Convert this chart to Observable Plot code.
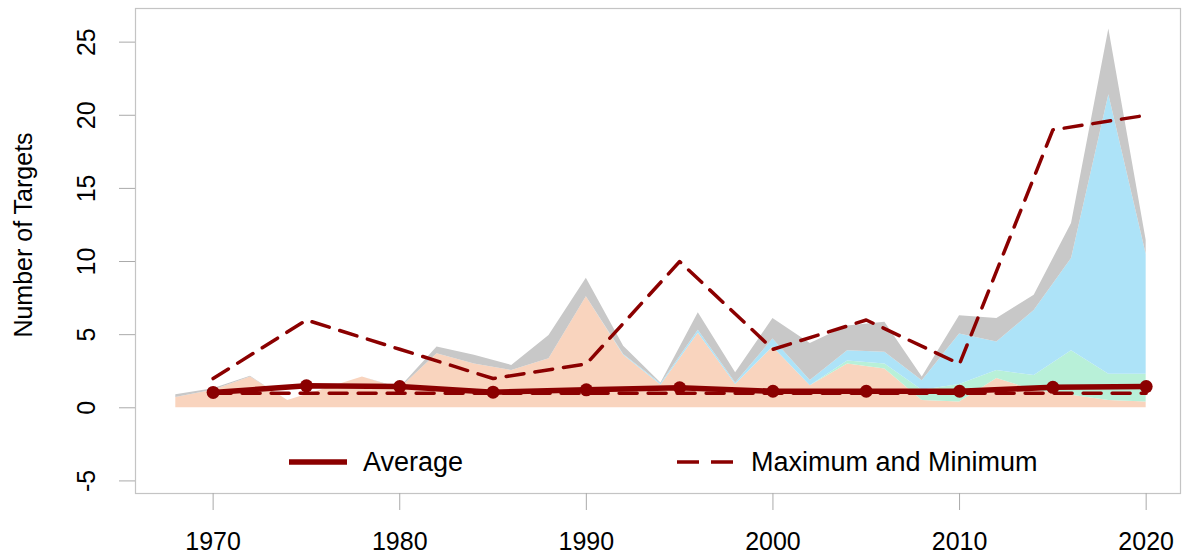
<!DOCTYPE html>
<html><head><meta charset="utf-8">
<script src="https://cdn.jsdelivr.net/npm/d3@7"></script>
<script src="https://cdn.jsdelivr.net/npm/@observablehq/plot@0.6"></script>
<style>
body{margin:0;background:#fff;font-family:"Liberation Sans",Arial,sans-serif;}
#wrap{position:relative;width:1183px;height:556px;overflow:hidden;}
#wrap svg{display:block;}
.ylab{position:absolute;left:0;top:0;font-size:25px;color:#000;white-space:nowrap;transform-origin:0 0;}
.leg{position:absolute;font-size:27px;color:#000;white-space:nowrap;display:flex;align-items:center;}
.leg svg{margin-right:16px;}
</style></head><body><div id="wrap"></div>
<script>
// Stacked area series (per two years)
const years  = [1968,1970,1972,1974,1976,1978,1980,1982,1984,1986,1988,1990,1992,1994,1996,1998,2000,2002,2004,2006,2008,2010,2012,2014,2016,2018,2020];
const orange = [0.7,1.2,2.1,0.5,1.3,2.1,1.3,3.7,3.0,2.55,3.35,7.6,3.6,1.55,5.1,1.6,4.15,1.5,3.0,2.65,0.5,0.4,2.0,1.2,0.85,0.5,0.4];
const green  = [0,0,0,0,0,0,0,0,0,0,0,0,0,0,0,0,0,0,0.2,0.35,0.7,1.2,0.55,1.0,3.05,1.8,1.9];
const blue   = [0,0,0,0,0,0,0,0,0,0,0,0,0.05,0.1,0.2,0.1,0.55,0.37,0.7,0.8,0.65,3.45,1.95,4.45,6.3,19.1,8.2];
const grey   = [0.2,0.1,0.05,0,0,0,0.05,0.45,0.6,0.35,1.6,1.25,0.55,0.05,1.2,0.7,1.4,2.53,1.7,2.05,0.25,1.25,1.6,1.05,2.4,4.5,0.95];
const layerNames  = ["Layer 1","Layer 2","Layer 3","Layer 4"];
const layerColors = ["#f9d4be","#b8f0d8","#ade3f8","#c8c8c8"];

// Five-year summary lines
const lineYears = [1970,1975,1980,1985,1990,1995,2000,2005,2010,2015,2020];
const average   = [1.05,1.5,1.45,1.07,1.23,1.37,1.13,1.13,1.13,1.4,1.45];
const maximum   = [2,6,4,2,3,10,4,6,3,19,20];
const minimum   = [1,1,1,1,1,1,1,1,1,1,1];

const xTicks = [1970,1980,1990,2000,2010,2020];
const yTicks = [-5,0,5,10,15,20,25];
const yTitle = "Number of Targets";
const legendLabels = ["Average","Maximum and Minimum"];

const seriesVals = [orange, green, blue, grey];
const areaRows = [];
layerNames.forEach((k, j) => years.forEach((yr,i) => areaRows.push({year: yr, layer: k, value: seriesVals[j][i]})));
const lineRows = lineYears.map((yr,i) => ({year: yr, avg: average[i], max: maximum[i], min: minimum[i]}));

const dark = "#8b0000";
const plot = Plot.plot({
  width: 1183, height: 556,
  marginLeft: 135, marginRight: 3, marginTop: 8, marginBottom: 63,
  style: {fontFamily: '"Liberation Sans", Arial, sans-serif', fontSize: "25px", background: "#fff", color: "#000"},
  x: {domain: [1965.84, 2021.84]},
  y: {domain: [-5.86, 27.3]},
  color: {type: "ordinal", domain: layerNames, range: layerColors},
  marks: [
    Plot.areaY(areaRows, {x: "year", y: "value", fill: "layer"}),
    Plot.lineY(lineRows, {x: "year", y: "max", stroke: dark, strokeWidth: 3.5, strokeDasharray: "18,11"}),
    Plot.lineY(lineRows, {x: "year", y: "min", stroke: dark, strokeWidth: 3.5, strokeDasharray: "18,11"}),
    Plot.lineY(lineRows, {x: "year", y: "avg", stroke: dark, strokeWidth: 5.5}),
    Plot.dot(lineRows, {x: "year", y: "avg", fill: dark, r: 6.5}),
    Plot.frame({stroke: "#c4c4c4", strokeWidth: 1.2}),
    Plot.axisX({ticks: xTicks, tickFormat: d => String(d), tickSize: 17, tickPadding: 22, stroke: "#aaa", fill: "#000", label: null}),
    Plot.axisY({ticks: yTicks, tickFormat: d => String(d), tickSize: 16, tickPadding: 25, tickRotate: -90, stroke: "#aaa", fill: "#000", label: null})
  ]
});
const wrap = document.getElementById("wrap");
wrap.appendChild(plot);

// y-axis title
const yl = document.createElement("div");
yl.className = "ylab";
yl.textContent = yTitle;
wrap.appendChild(yl);
const w = yl.getBoundingClientRect().width;
yl.style.transform = `translate(9px, ${235 + w/2}px) rotate(-90deg)`;

// legend
function legendItem(label, dashed, left) {
  const d = document.createElement("div");
  d.className = "leg";
  d.style.left = left + "px";
  d.style.top = "446px";
  d.innerHTML = `<svg width="58" height="32"><line x1="0" x2="58" y1="16" y2="16" stroke="${dark}" stroke-width="${dashed ? 3.5 : 5.5}" ${dashed ? 'stroke-dasharray="22,12"' : ''}/></svg><span>${label}</span>`;
  wrap.appendChild(d);
}
legendItem(legendLabels[0], false, 289);
legendItem(legendLabels[1], true, 677);
</script></body></html>
